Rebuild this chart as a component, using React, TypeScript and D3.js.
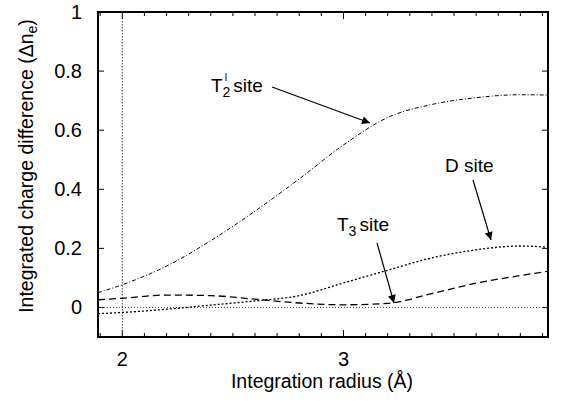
import React from 'react'
import * as d3 from 'd3'

// integration radius (Å) sample points
const radius = [1.89, 2.0, 2.2, 2.4, 2.6, 2.8, 3.0, 3.2, 3.4, 3.6, 3.8, 3.92]
// integrated charge difference for each site
const t2Site = [0.05, 0.077, 0.14, 0.226, 0.326, 0.435, 0.55, 0.643, 0.687, 0.71, 0.72, 0.719]
const dSite = [-0.021, -0.017, -0.006, 0.008, 0.022, 0.04, 0.083, 0.126, 0.168, 0.195, 0.208, 0.204]
const t3Site = [0.026, 0.031, 0.042, 0.04, 0.028, 0.015, 0.009, 0.014, 0.047, 0.082, 0.108, 0.122]
const yTicks = [0, 0.2, 0.4, 0.6, 0.8, 1]
const xTicks = [2, 3]

const W = 563
const H = 407
const margin = { top: 12, right: 15, bottom: 70, left: 98 }
const font = 'Liberation Sans, Arial, Helvetica, sans-serif'

export default function App() {
  const x = d3.scaleLinear().domain([1.89, 3.925]).range([margin.left, W - margin.right])
  const y = d3.scaleLinear().domain([-0.1, 1]).range([H - margin.bottom, margin.top])

  const line = (vals: number[]) =>
    d3.line<number>()
      .x((d, i) => x(radius[i]))
      .y(d => y(d))
      .curve(d3.curveMonotoneX)(vals) as string

  const minor = d3.range(19, 40).map(v => v / 10).filter(v => v >= 1.9 && v <= 3.92)
  const x0 = margin.left, x1 = W - margin.right
  const y0 = H - margin.bottom, y1 = margin.top
  const isMajor = (v: number) => Math.abs(v - Math.round(v)) < 1e-6

  return (
    <svg width={W} height={H} style={{ position: 'absolute', left: 0, top: 0, background: '#fff' }}
      fontFamily={font}>
      <defs>
        <clipPath id="plot">
          <rect x={x0} y={y1} width={x1 - x0} height={y0 - y1} />
        </clipPath>
        <marker id="arr" viewBox="0 0 10 10" refX="10" refY="5" markerWidth="12" markerHeight="8"
          markerUnits="userSpaceOnUse" orient="auto">
          <path d="M0,0 L10,5 L0,10 z" fill="#000" />
        </marker>
      </defs>

      {/* ticks on all four sides */}
      {minor.map(v => (
        <g key={v}>
          <line x1={x(v)} x2={x(v)} y1={y0} y2={y0 - (isMajor(v) ? 7 : 4)} stroke="#000" />
          <line x1={x(v)} x2={x(v)} y1={y1} y2={y1 + (isMajor(v) ? 7 : 4)} stroke="#000" />
        </g>
      ))}
      {yTicks.map(v => (
        <g key={v}>
          <line x1={x0} x2={x0 + 6} y1={y(v)} y2={y(v)} stroke="#000" />
          <line x1={x1} x2={x1 - 6} y1={y(v)} y2={y(v)} stroke="#000" />
          <text x={x0 - 16} y={y(v) + 7} fontSize={20} textAnchor="end">{v}</text>
        </g>
      ))}
      {xTicks.map(v => (
        <text key={v} x={x(v)} y={y0 + 29} fontSize={20} textAnchor="middle">{v}</text>
      ))}

      <g clipPath="url(#plot)" fill="none">
        <line x1={x(2)} x2={x(2)} y1={y1} y2={y0} stroke="#444" strokeWidth={1} strokeDasharray="1.5,1.5" />
        <line x1={x0} x2={x1} y1={y(0)} y2={y(0)} stroke="#444" strokeWidth={1} strokeDasharray="1,2" />
        <path d={line(t2Site)} stroke="#000" strokeWidth={1} strokeDasharray="4,2,1,2" />
        <path d={line(dSite)} stroke="#000" strokeWidth={1.3} strokeDasharray="2,2" />
        <path d={line(t3Site)} stroke="#000" strokeWidth={1.3} strokeDasharray="7,4" />
      </g>

      <rect x={x0} y={y1} width={x1 - x0} height={y0 - y1} fill="none" stroke="#000" strokeWidth={2} />

      {/* annotations */}
      <text x={211} y={92} fontSize={19}>
        T<tspan fontSize={14} dy={5}>2</tspan><tspan fontSize={10} dx={-6} dy={-16}>I</tspan><tspan dy={11} dx={6}>site</tspan>
      </text>
      <line x1={272} y1={87} x2={370} y2={123} stroke="#000" strokeWidth={1.2} markerEnd="url(#arr)" />

      <text x={445} y={172} fontSize={19}>D site</text>
      <line x1={473} y1={180} x2={491} y2={240} stroke="#000" strokeWidth={1.2} markerEnd="url(#arr)" />

      <text x={337} y={231} fontSize={19}>
        T<tspan fontSize={14} dy={5}>3</tspan><tspan dy={-5} dx={3}>site</tspan>
      </text>
      <line x1={377} y1={243} x2={394} y2={303} stroke="#000" strokeWidth={1.2} markerEnd="url(#arr)" />

      {/* axis titles */}
      <text x={322} y={388} fontSize={19.5} textAnchor="middle">Integration radius (Å)</text>
      <text transform="translate(33,166) rotate(-90)" fontSize={19.5} textAnchor="middle">
        Integrated charge difference (Δn<tspan fontSize={14} dy={4}>e</tspan><tspan dy={-4}>)</tspan>
      </text>
    </svg>
  )
}
